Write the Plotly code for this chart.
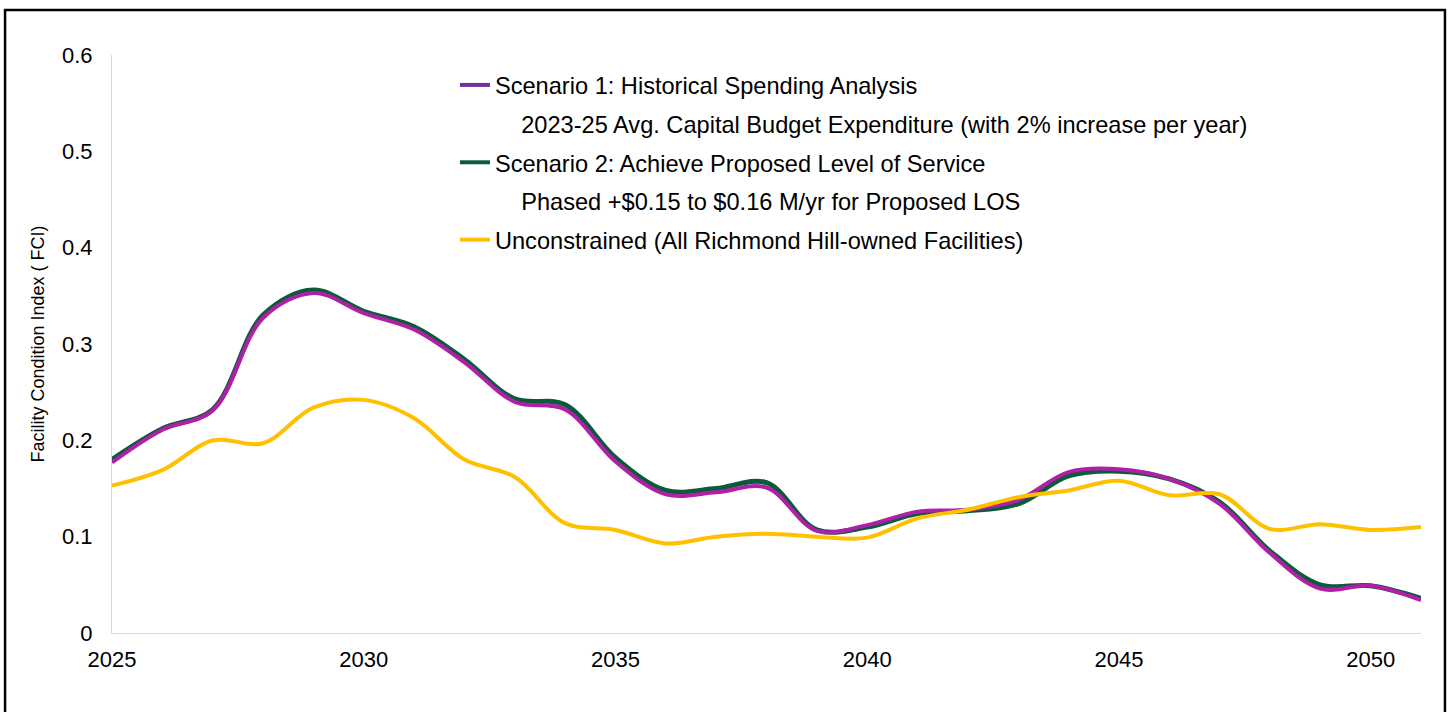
import plotly.graph_objects as go

years = list(range(2025, 2052))

scenario1 = [0.177, 0.211, 0.231, 0.327, 0.353, 0.332, 0.315, 0.281, 0.240, 0.232,
             0.178, 0.144, 0.146, 0.151, 0.106, 0.112, 0.126, 0.128, 0.138, 0.167,
             0.170, 0.160, 0.134, 0.083, 0.046, 0.049, 0.034]

scenario2 = [0.180, 0.212, 0.232, 0.330, 0.356, 0.334, 0.318, 0.284, 0.243, 0.237,
             0.182, 0.148, 0.150, 0.156, 0.107, 0.110, 0.124, 0.127, 0.134, 0.163,
             0.168, 0.160, 0.136, 0.085, 0.050, 0.049, 0.036]

unconstrained = [0.153, 0.169, 0.200, 0.197, 0.234, 0.242, 0.223, 0.180, 0.162, 0.114,
                 0.107, 0.093, 0.100, 0.103, 0.100, 0.099, 0.119, 0.128, 0.141, 0.148,
                 0.158, 0.143, 0.144, 0.108, 0.113, 0.107, 0.110]

legend_labels = [
    "Scenario 1: Historical Spending Analysis",
    "\u00a0\u00a0\u00a0\u00a02023-25 Avg. Capital Budget Expenditure (with 2% increase per year)",
    "Scenario 2: Achieve Proposed Level of Service",
    "\u00a0\u00a0\u00a0\u00a0Phased +$0.15 to $0.16 M/yr for Proposed LOS",
    "Unconstrained (All Richmond Hill-owned Facilities)",
]
legend_colors = ["#7030A0", "rgba(0,0,0,0)", "#0B5A3A", "rgba(0,0,0,0)", "#FFC000"]

x_ticks = [2025, 2030, 2035, 2040, 2045, 2050]
y_ticks = [0, 0.1, 0.2, 0.3, 0.4, 0.5, 0.6]

FONT = "Arial, 'Liberation Sans', sans-serif"

fig = go.Figure()

fig.add_trace(go.Scatter(x=years, y=scenario2, mode="lines", showlegend=False,
                         line=dict(color="#0B5A3A", width=5, shape="spline", smoothing=1.0),
                         hoverinfo="skip"))
fig.add_trace(go.Scatter(x=years, y=scenario1, mode="lines", showlegend=False,
                         line=dict(color="#B01FA8", width=4, shape="spline", smoothing=1.0),
                         hoverinfo="skip"))
fig.add_trace(go.Scatter(x=years, y=unconstrained, mode="lines", showlegend=False,
                         line=dict(color="#FFC000", width=4, shape="spline", smoothing=1.0),
                         hoverinfo="skip"))

for i, (lab, col) in enumerate(zip(legend_labels, legend_colors)):
    fig.add_trace(go.Scatter(x=[None], y=[None], mode="lines", name=lab,
                             legendgroup=f"g{i}",
                             line=dict(color=col, width=4)))

fig.update_layout(
    width=1452, height=712,
    paper_bgcolor="white", plot_bgcolor="white",
    margin=dict(l=112, r=31, t=55, b=79),
    font=dict(family=FONT, color="black"),
    showlegend=True,
    legend=dict(x=0.262, y=0.986, xanchor="left", yanchor="top",
                bgcolor="rgba(0,0,0,0)", borderwidth=0,
                font=dict(size=23.6, family=FONT, color="black"),
                tracegroupgap=5, traceorder="grouped"),
    xaxis=dict(range=[2025, 2051], tickmode="array", tickvals=x_ticks,
               ticktext=[str(v) for v in x_ticks],
               showgrid=False, zeroline=False, showline=True,
               linecolor="#D9D9D9", linewidth=1, ticks="",
               tickfont=dict(size=22, family=FONT, color="black"),
               ticklabelstandoff=7),
    yaxis=dict(range=[0, 0.6], tickmode="array", tickvals=y_ticks,
               ticktext=["0", "0.1", "0.2", "0.3", "0.4", "0.5", "0.6"],
               showgrid=False, zeroline=False, showline=True,
               linecolor="#D9D9D9", linewidth=1, ticks="",
               tickfont=dict(size=22, family=FONT, color="black"),
               ticklabelstandoff=14,
               title=dict(text="Facility Condition Index ( FCI)",
                          font=dict(size=18, family=FONT, color="black"),
                          standoff=12)),
    shapes=[dict(type="rect", xref="paper", yref="paper",
                 x0=-0.0817, x1=1.0183, y0=-0.16, y1=1.0779,
                 line=dict(color="black", width=2.5), fillcolor="rgba(0,0,0,0)",
                 layer="above")],
)

fig.write_html("out.html",
               config={"displayModeBar": False},
               post_script="document.body.style.margin='0';document.body.style.overflow='hidden';")
